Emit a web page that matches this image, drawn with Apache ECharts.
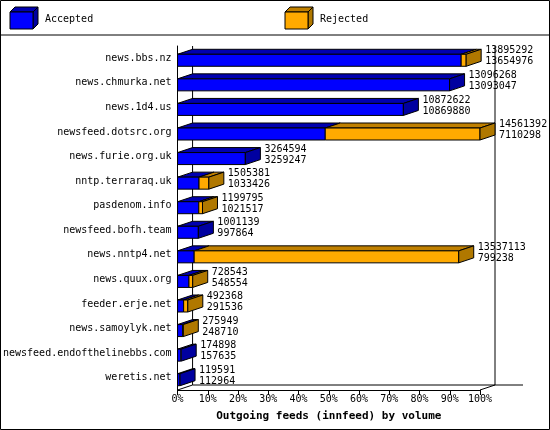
<!DOCTYPE html><html><head><meta charset="utf-8">
<script src="https://cdn.jsdelivr.net/npm/echarts@6/dist/echarts.min.js"></script>
<style>html,body{margin:0;padding:0;background:#fff}#c{width:550px;height:430px}</style></head><body><div id="c"></div>
<script>
const categories=["news.bbs.nz","news.chmurka.net","news.1d4.us","newsfeed.dotsrc.org","news.furie.org.uk","nntp.terraraq.uk","pasdenom.info","newsfeed.bofh.team","news.nntp4.net","news.quux.org","feeder.erje.net","news.samoylyk.net","newsfeed.endofthelinebbs.com","weretis.net"];
const offered=[13895292,13096268,10872622,14561392,3264594,1505381,1199795,1001139,13537113,728543,492368,275949,174898,119591];
const accepted=[13654976,13093047,10869880,7110298,3259247,1033426,1021517,997864,799238,548554,291536,248710,157635,112964];
const tickLabels=["0%","10%","20%","30%","40%","50%","60%","70%","80%","90%","100%"];
const maxTotal=Math.max(...offered);
const data=categories.map((c,i)=>[i,accepted[i]/maxTotal*100,offered[i]/maxTotal*100]);
const DX=15,DY=5,H=12,FONT='10px "DejaVu Sans Mono", monospace';
function seg(x0,x1,y0,front,top){
  return [
    {type:'polygon',shape:{points:[[x0,y0],[x0+DX,y0-DY],[x1+DX,y0-DY],[x1,y0]]},style:{fill:top,stroke:'#000',lineWidth:1}},
    {type:'rect',shape:{x:x0,y:y0,width:x1-x0,height:H},style:{fill:front,stroke:'#000',lineWidth:1}}
  ];
}
function renderItem(params,api){
  const i=api.value(0),a=api.value(1),t=api.value(2);
  const p0=api.coord([0,i]),pa=api.coord([a,i]),pt=api.coord([t,i]);
  const yc=p0[1],y0=yc-H/2+2,y1=y0+H;
  const ch=[];
  if(params.dataIndex===0){
    const g=params.coordSys;
    const yb=g.y+g.height, yt=g.y;
    const x0=g.x,x1=g.x+g.width;
    const ls={stroke:'#000',lineWidth:1};
    ch.push({type:'line',shape:{x1:x0+DX,y1:yt,x2:x0+DX,y2:yb-DY},style:ls});
    ch.push({type:'line',shape:{x1:x1+DX,y1:yt,x2:x1+DX,y2:yb-DY},style:ls});
    ch.push({type:'line',shape:{x1:x0+DX,y1:yb-DY,x2:x1+DX+28,y2:yb-DY},style:ls});
    ch.push({type:'line',shape:{x1:x0,y1:yb,x2:x0+DX,y2:yb-DY},style:ls});
    ch.push({type:'line',shape:{x1:x1,y1:yb,x2:x1+DX,y2:yb-DY},style:ls});
  }
  ch.push(...seg(p0[0],pa[0],y0,'#0000ff','#0000b0'));
  const rej=pt[0]-pa[0]>0.5;
  if(rej) ch.push(...seg(pa[0],pt[0],y0,'#ffaa00','#c08000'));
  const xe=pt[0];
  ch.push({type:'polygon',shape:{points:[[xe,y0],[xe+DX,y0-DY],[xe+DX,y1-DY],[xe,y1]]},style:{fill:rej?'#b07800':'#0000a0',stroke:'#000',lineWidth:1}});
  ch.push({type:'text',style:{text:offered[i]+'\n'+accepted[i],x:xe+DX+4,y:yc-DY-8,font:FONT,fill:'#000',lineHeight:11}});
  return {type:'group',children:ch};
}
const chart=echarts.init(document.getElementById('c'),null,{renderer:'canvas'});
chart.setOption({
  animation:false,backgroundColor:'#fff',
  grid:{left:177,right:70,top:46,bottom:40},
  xAxis:{type:'value',min:0,max:100,interval:10,splitLine:{show:false},
    axisLine:{show:true,lineStyle:{color:'#000'}},axisTick:{show:true,length:5,lineStyle:{color:'#000'}},
    axisLabel:{formatter:(v)=>tickLabels[Math.round(v/10)],color:'#000',fontFamily:'DejaVu Sans Mono',fontSize:10,margin:4},
    name:'Outgoing feeds (innfeed) by volume',nameLocation:'middle',nameGap:21,
    nameTextStyle:{color:'#000',fontFamily:'DejaVu Sans Mono',fontSize:11,fontWeight:'bold'}},
  yAxis:{type:'category',data:categories,inverse:true,
    axisLine:{show:true,lineStyle:{color:'#000'}},axisTick:{show:false},
    axisLabel:{color:'#000',fontFamily:'DejaVu Sans Mono',fontSize:10,margin:6}},
  series:[{type:'custom',renderItem:renderItem,data:data,encode:{x:[1,2],y:0},clip:false}],
  graphic:[
    {type:'rect',shape:{x:0.5,y:0.5,width:549,height:429},style:{fill:null,stroke:'#000',lineWidth:1},z:100},
    {type:'line',shape:{x1:0,y1:35,x2:550,y2:35},style:{stroke:'#000',lineWidth:1}},
    {type:'polygon',shape:{points:[[10,12],[15,7],[38,7],[33,12]]},style:{fill:'#0000b0',stroke:'#000'}},
    {type:'polygon',shape:{points:[[33,12],[38,7],[38,24],[33,29]]},style:{fill:'#0000a0',stroke:'#000'}},
    {type:'rect',shape:{x:10,y:12,width:23,height:17},style:{fill:'#0000ff',stroke:'#000'}},
    {type:'text',style:{text:'Accepted',x:45,y:14,font:FONT,fill:'#000'}},
    {type:'polygon',shape:{points:[[285,12],[290,7],[313,7],[308,12]]},style:{fill:'#c08000',stroke:'#000'}},
    {type:'polygon',shape:{points:[[308,12],[313,7],[313,24],[308,29]]},style:{fill:'#b07800',stroke:'#000'}},
    {type:'rect',shape:{x:285,y:12,width:23,height:17},style:{fill:'#ffaa00',stroke:'#000'}},
    {type:'text',style:{text:'Rejected',x:320,y:14,font:FONT,fill:'#000'}}
  ]
});
</script></body></html>
